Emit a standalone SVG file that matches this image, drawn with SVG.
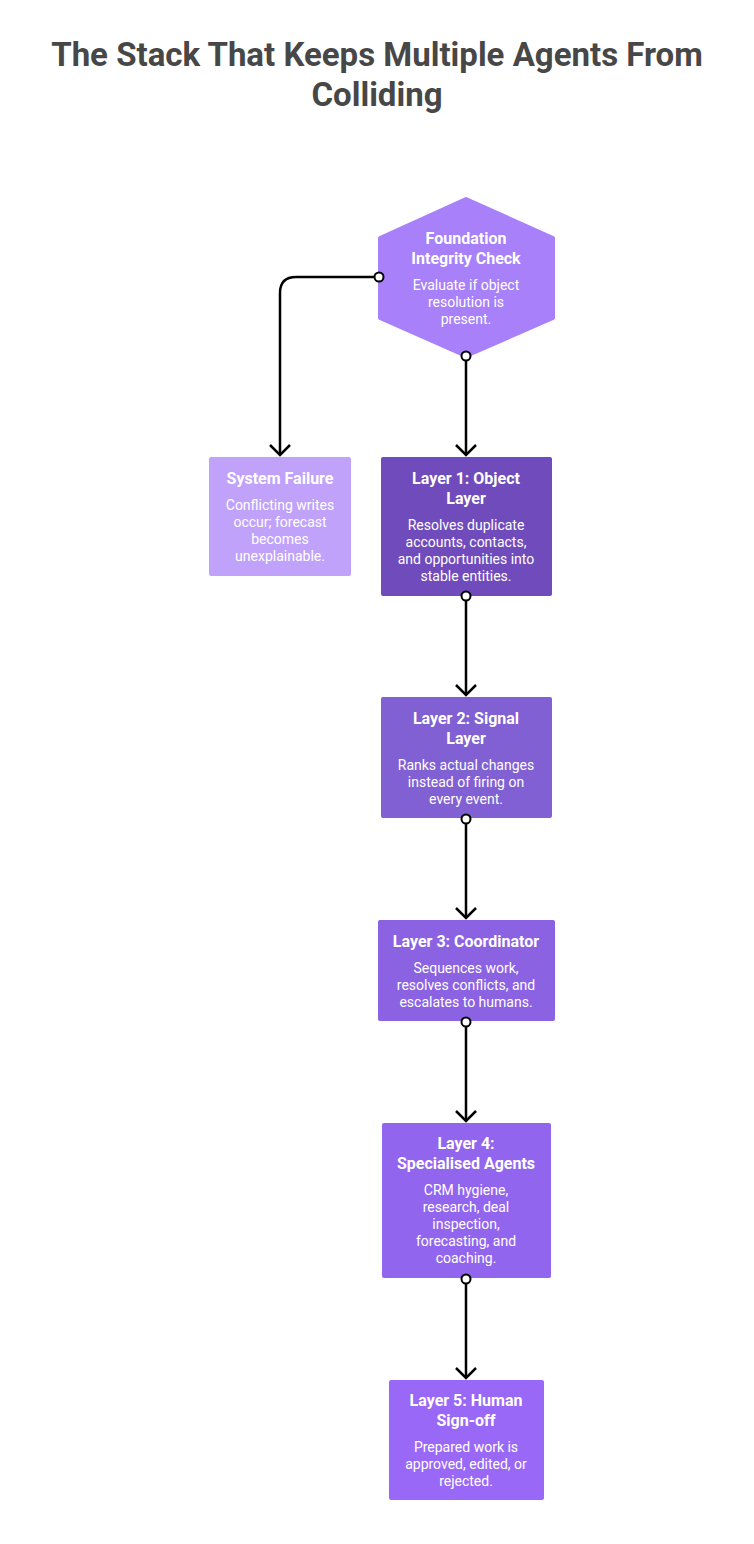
<svg xmlns="http://www.w3.org/2000/svg" width="754" height="1544" viewBox="0 0 754 1544">
<style>
text{font-family:Roboto,"Liberation Sans",sans-serif;fill:#fff;text-anchor:middle}
.h{font-size:33px;font-weight:bold;fill:#474747}
.t{font-size:16px;font-weight:bold}
.b{font-size:14px}
.c{fill:none;stroke:#000;stroke-width:2.5}
</style>
<defs>
<marker id="s" markerWidth="14" markerHeight="14" refX="7" refY="7" markerUnits="userSpaceOnUse"><circle cx="7" cy="7" r="4.5" fill="#fff" stroke="#000" stroke-width="2"/></marker>
<marker id="a" markerWidth="24" markerHeight="14" refX="12" refY="12" markerUnits="userSpaceOnUse"><path d="M2 2 L12 12 L22 2" fill="none" stroke="#000" stroke-width="2.5"/></marker>
</defs>
<rect width="754" height="1544" fill="#fff"/>
<text class="h" x="377" y="66">The Stack That Keeps Multiple Agents From</text>
<text class="h" x="377" y="106">Colliding</text>
<g id="foundation">
<path d="M466 199 L553 238 V318 L466 356 L380 318 V238 Z" fill="#a780fa" stroke="#a780fa" stroke-width="4" stroke-linejoin="round"/>
<text class="t" x="466" y="244">Foundation</text>
<text class="t" x="466" y="264">Integrity Check</text>
<text class="b" x="466" y="290">Evaluate if object</text>
<text class="b" x="466" y="307">resolution is</text>
<text class="b" x="466" y="324">present.</text>
</g>
<g id="failure">
<rect x="209" y="457" width="142" height="119" rx="2" fill="#c0a2fb"/>
<text class="t" x="280" y="484">System Failure</text>
<text class="b" x="280" y="510">Conflicting writes</text>
<text class="b" x="280" y="527">occur; forecast</text>
<text class="b" x="280" y="544">becomes</text>
<text class="b" x="280" y="561">unexplainable.</text>
</g>
<g id="layer1">
<rect x="381" y="457" width="171" height="139" rx="2" fill="#6f4bbb"/>
<text class="t" x="466" y="484">Layer 1: Object</text>
<text class="t" x="466" y="504">Layer</text>
<text class="b" x="466" y="530">Resolves duplicate</text>
<text class="b" x="466" y="547">accounts, contacts,</text>
<text class="b" x="466" y="564">and opportunities into</text>
<text class="b" x="466" y="581">stable entities.</text>
</g>
<g id="layer2">
<rect x="381" y="697" width="171" height="121" rx="2" fill="#8060d2"/>
<text class="t" x="466" y="724">Layer 2: Signal</text>
<text class="t" x="466" y="744">Layer</text>
<text class="b" x="466" y="770">Ranks actual changes</text>
<text class="b" x="466" y="787">instead of firing on</text>
<text class="b" x="466" y="804">every event.</text>
</g>
<g id="layer3">
<rect x="378" y="920" width="177" height="101" rx="2" fill="#8a62e2"/>
<text class="t" x="466" y="947">Layer 3: Coordinator</text>
<text class="b" x="466" y="973">Sequences work,</text>
<text class="b" x="466" y="990">resolves conflicts, and</text>
<text class="b" x="466" y="1007">escalates to humans.</text>
</g>
<g id="layer4">
<rect x="382" y="1123" width="169" height="155" rx="2" fill="#9265ee"/>
<text class="t" x="466" y="1149">Layer 4:</text>
<text class="t" x="466" y="1169">Specialised Agents</text>
<text class="b" x="466" y="1195">CRM hygiene,</text>
<text class="b" x="466" y="1212">research, deal</text>
<text class="b" x="466" y="1229">inspection,</text>
<text class="b" x="466" y="1246">forecasting, and</text>
<text class="b" x="466" y="1263">coaching.</text>
</g>
<g id="layer5">
<rect x="389" y="1380" width="155" height="120" rx="2" fill="#9a68f6"/>
<text class="t" x="466" y="1406">Layer 5: Human</text>
<text class="t" x="466" y="1426">Sign-off</text>
<text class="b" x="466" y="1452">Prepared work is</text>
<text class="b" x="466" y="1469">approved, edited, or</text>
<text class="b" x="466" y="1486">rejected.</text>
</g>
<g id="connectors">
<path class="c" d="M379 277 H296 Q280 277 280 293 V455" marker-start="url(#s)" marker-end="url(#a)"/>
<path class="c" d="M466 356 V455" marker-start="url(#s)" marker-end="url(#a)"/>
<path class="c" d="M466 596 V695" marker-start="url(#s)" marker-end="url(#a)"/>
<path class="c" d="M466 819 V918" marker-start="url(#s)" marker-end="url(#a)"/>
<path class="c" d="M466 1022 V1121" marker-start="url(#s)" marker-end="url(#a)"/>
<path class="c" d="M466 1279 V1378" marker-start="url(#s)" marker-end="url(#a)"/>
</g>
</svg>
